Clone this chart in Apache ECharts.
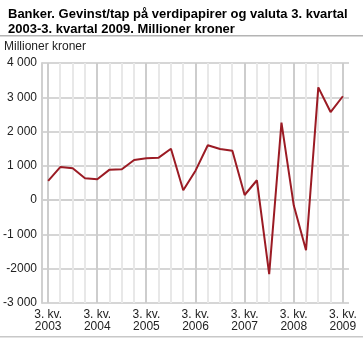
<!DOCTYPE html>
<html>
<head>
<meta charset="utf-8">
<script src="https://cdn.jsdelivr.net/npm/echarts@6/dist/echarts.min.js"></script>
<style>
  html, body { margin: 0; padding: 0; background: #fff; }
  #chart { width: 363px; height: 346px; }
</style>
</head>
<body>
<div id="chart"></div>
<script>
// Quarters from 3rd quarter 2003 to 3rd quarter 2009
const quarters = [
  '3. kv. 2003', '4. kv. 2003', '1. kv. 2004', '2. kv. 2004',
  '3. kv. 2004', '4. kv. 2004', '1. kv. 2005', '2. kv. 2005',
  '3. kv. 2005', '4. kv. 2005', '1. kv. 2006', '2. kv. 2006',
  '3. kv. 2006', '4. kv. 2006', '1. kv. 2007', '2. kv. 2007',
  '3. kv. 2007', '4. kv. 2007', '1. kv. 2008', '2. kv. 2008',
  '3. kv. 2008', '4. kv. 2008', '1. kv. 2009', '2. kv. 2009',
  '3. kv. 2009'
];

// Gains/losses on securities and currency, million NOK
const gevinstTap = [
  560, 970, 930, 640, 610, 890, 900, 1170,
  1220, 1240, 1500, 290, 860, 1600, 1490, 1440,
  150, 580, -2160, 2260, -150, -1460, 3290, 2570,
  3030
];

// Y-axis ticks
const yTicks = [-3000, -2000, -1000, 0, 1000, 2000, 3000, 4000];

const FONT = '"Liberation Sans", Arial, sans-serif';

function fmtTick(v) {
  if (v === -2000) return '-2000';
  const s = String(Math.abs(v)).replace(/\B(?=(\d{3})+(?!\d))/g, ' ');
  return (v < 0 ? '-' : '') + s;
}

// Vertical grid line through every quarter, stronger at each 3rd quarter
function renderQuarterLine(params, api) {
  const idx = api.value(0);
  const top = api.coord([idx, yTicks[yTicks.length - 1]]);
  const bottom = api.coord([idx, yTicks[0]]);
  const x = Math.round(top[0]);
  return {
    type: 'line',
    shape: { x1: x, y1: top[1], x2: x, y2: bottom[1] },
    style: {
      stroke: quarters[idx].startsWith('3.') ? '#cdcdcd' : '#e8e8e8',
      lineWidth: 2
    },
    silent: true
  };
}

const chart = echarts.init(document.getElementById('chart'), null, { renderer: 'canvas' });

chart.setOption({
  animation: false,
  backgroundColor: '#fff',
  title: {
    text: 'Banker. Gevinst/tap på verdipapirer og valuta 3. kvartal\n2003-3. kvartal 2009. Millioner kroner',
    left: 3,
    top: 2,
    textStyle: {
      fontFamily: FONT,
      fontSize: 13,
      fontWeight: 'bold',
      color: '#000',
      lineHeight: 15
    }
  },
  graphic: [
    { type: 'rect', shape: { x: 0, y: 35, width: 363, height: 1.5 }, style: { fill: '#b4b4b4' }, z: 10 },
    { type: 'rect', shape: { x: 0, y: 336, width: 363, height: 1.5 }, style: { fill: '#c8c8c8' }, z: 10 },
    {
      type: 'text', left: 4, top: 41,
      style: { text: 'Millioner kroner', fontFamily: FONT, fontSize: 12, fill: '#222' }
    }
  ],
  grid: { left: 42, right: 14, top: 63, bottom: 43, containLabel: false },
  xAxis: {
    type: 'category',
    data: quarters,
    boundaryGap: true,
    axisLine: { show: true, lineStyle: { color: '#d0d0d0', width: 2 } },
    axisTick: { show: false },
    splitLine: { show: false },
    axisLabel: {
      interval: (idx) => idx % 4 === 0,
      formatter: (v) => v.replace(' 20', '\n20'),
      fontFamily: FONT,
      fontSize: 12,
      lineHeight: 12,
      color: '#222',
      margin: 6
    }
  },
  yAxis: {
    type: 'value',
    min: yTicks[0],
    max: yTicks[yTicks.length - 1],
    interval: 1000,
    axisLine: { show: true, lineStyle: { color: '#d0d0d0', width: 2 } },
    axisTick: { show: false },
    splitLine: { show: true, lineStyle: { color: '#d6d6d6', width: 2 } },
    axisLabel: {
      formatter: fmtTick,
      fontFamily: FONT,
      fontSize: 12,
      color: '#222',
      margin: 5
    }
  },
  series: [
    {
      type: 'custom',
      renderItem: renderQuarterLine,
      data: quarters.map((q, i) => [i]),
      encode: { x: 0 },
      silent: true,
      z: 1
    },
    {
      name: 'Gevinst/tap',
      type: 'line',
      data: gevinstTap,
      z: 5,
      symbol: 'none',
      lineStyle: { color: '#9b1b24', width: 2 },
      itemStyle: { color: '#9b1b24' }
    }
  ]
});
</script>
</body>
</html>
